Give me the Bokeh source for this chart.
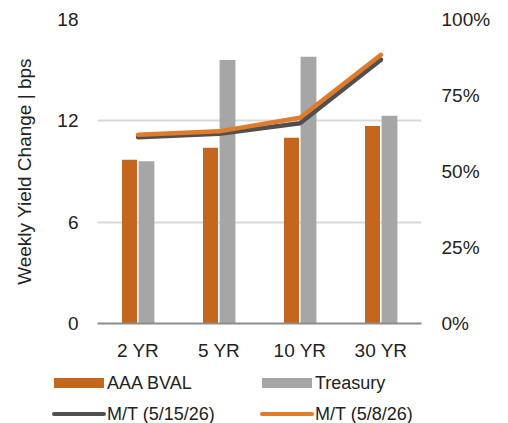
from bokeh.plotting import figure
from bokeh.layouts import column
from bokeh.models import (FactorRange, Range1d, LinearAxis, FixedTicker, NumeralTickFormatter,
                          ColumnDataSource, Div)
from bokeh.transform import dodge
from bokeh.embed import file_html
from bokeh.resources import INLINE

categories = ["2 YR", "5 YR", "10 YR", "30 YR"]
aaa_bval = [9.7, 10.4, 11.0, 11.7]
treasury = [9.6, 15.6, 15.8, 12.3]
mt_0515 = [0.613, 0.624, 0.659, 0.868]
mt_0508 = [0.621, 0.632, 0.677, 0.884]
left_ticks = [0, 6, 12, 18]
right_ticks = [0, 0.25, 0.5, 0.75, 1.0]
series_names = ["AAA BVAL", "Treasury", "M/T (5/15/26)", "M/T (5/8/26)"]
series_kinds = ["bar", "bar", "line", "line"]

FONT = "Liberation Sans"
ORANGE_BAR = "#C4661E"
GRAY_BAR = "#A6A6A6"
DARK_LINE = "#505050"
ORANGE_LINE = "#E07B2A"
TEXT = "#222222"
series_colors = [ORANGE_BAR, GRAY_BAR, DARK_LINE, ORANGE_LINE]

src = ColumnDataSource(dict(cat=categories, aaa=aaa_bval, tre=treasury, m1=mt_0515, m2=mt_0508))

p = figure(width=508, height=370, x_range=FactorRange(*categories, range_padding=0),
           y_range=Range1d(0, 18), output_backend="svg", toolbar_location=None,
           min_border_left=97, min_border_right=87, min_border_top=19, min_border_bottom=47)
p.outline_line_color = None
p.extra_y_ranges = {"pct": Range1d(0, 1)}

p.vbar(x=dodge("cat", -0.105, range=p.x_range), top="aaa", width=0.185, source=src,
       fill_color=ORANGE_BAR, line_color=None)
p.vbar(x=dodge("cat", 0.105, range=p.x_range), top="tre", width=0.195, source=src,
       fill_color=GRAY_BAR, line_color=None)
p.line(x="cat", y="m1", source=src, y_range_name="pct", line_color=DARK_LINE,
       line_width=4.5, line_cap="round", line_join="round")
p.line(x="cat", y="m2", source=src, y_range_name="pct", line_color=ORANGE_LINE,
       line_width=4.5, line_cap="round", line_join="round")

# left axis
ya = p.yaxis[0]
ya.ticker = FixedTicker(ticks=left_ticks)
ya.axis_line_color = None
ya.major_tick_line_color = None
ya.minor_tick_line_color = None
ya.major_label_text_font = FONT
ya.major_label_text_font_size = "19px"
ya.major_label_text_color = TEXT
ya.major_label_standoff = 13
ya.axis_label = "Weekly Yield Change | bps"
ya.axis_label_text_font = FONT
ya.axis_label_text_font_size = "19px"
ya.axis_label_text_font_style = "normal"
ya.axis_label_text_color = TEXT
ya.axis_label_standoff = 19

# right axis
ra = LinearAxis(y_range_name="pct", ticker=FixedTicker(ticks=right_ticks),
                formatter=NumeralTickFormatter(format="0%"))
ra.axis_line_color = None
ra.major_tick_line_color = None
ra.minor_tick_line_color = None
ra.major_label_text_font = FONT
ra.major_label_text_font_size = "19px"
ra.major_label_text_color = TEXT
ra.major_label_standoff = 14
p.add_layout(ra, "right")

# x axis
xa = p.xaxis[0]
xa.axis_line_color = "#8C8C8C"
xa.axis_line_width = 2
xa.major_tick_line_color = None
xa.minor_tick_line_color = None
xa.major_label_text_font = FONT
xa.major_label_text_font_size = "19px"
xa.major_label_text_color = TEXT
xa.major_label_standoff = 10

p.xgrid.grid_line_color = None
p.ygrid.ticker = FixedTicker(ticks=left_ticks)
p.ygrid.grid_line_color = "#D9D9D9"
p.ygrid.grid_line_width = 2

# legend (HTML strip below the plot so it is not clipped by the plot frame)
items = []
for name, kind, col in zip(series_names, series_kinds, series_colors):
    if kind == "bar":
        sw = f'<span style="display:inline-block;width:50px;height:10px;background:{col};"></span>'
    else:
        sw = (f'<span style="display:inline-block;width:54px;height:4.5px;'
              f'border-radius:3px;background:{col};"></span>')
    items.append(
        f'<div style="display:flex;align-items:center;height:26px;white-space:nowrap;">'
        f'<span style="display:inline-flex;justify-content:center;width:57px;">{sw}</span>'
        f'<span>{name}</span></div>')
html = (f'<div style="display:grid;grid-template-columns:208px 200px;row-gap:5px;'
        f'padding-left:50px;font-family:\'{FONT}\';font-size:18px;color:{TEXT};'
        f'line-height:26px;">' + "".join(items) + '</div>')
leg = Div(text=html, width=508, height=53, styles={"margin": "0", "padding": "0", "overflow": "hidden"})

open("out.html", "w").write(file_html(column(p, leg, spacing=0), INLINE))
